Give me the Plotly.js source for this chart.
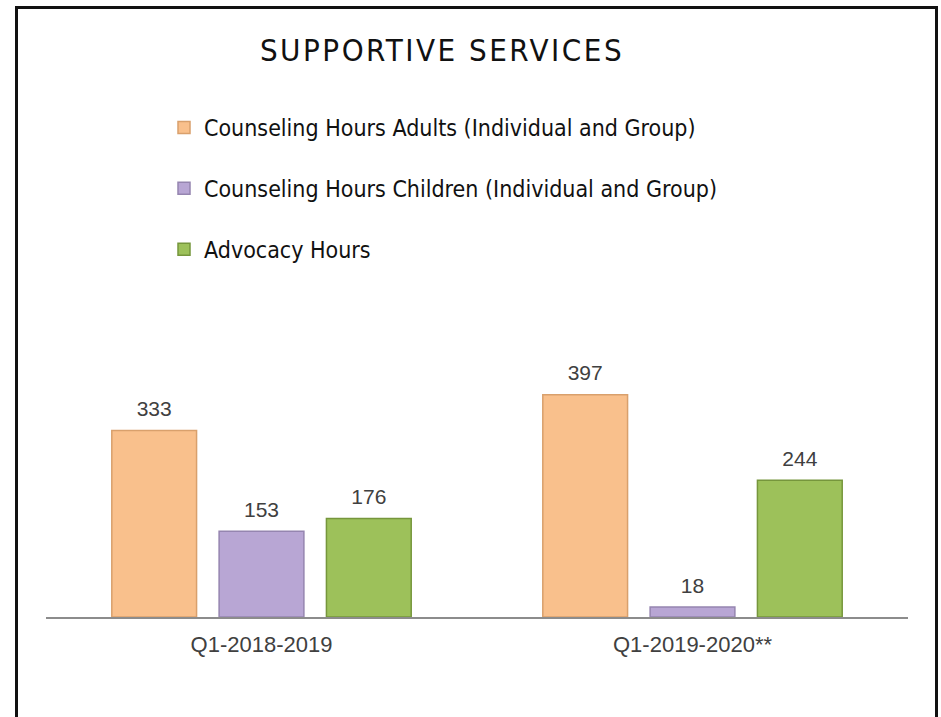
<!DOCTYPE html>
<html>
<head>
<meta charset="utf-8">
<script src="https://cdn.plot.ly/plotly-3.0.1.min.js"></script>
<style>
  html, body { margin: 0; padding: 0; background: #ffffff; }
  #chart { width: 941px; height: 717px; position: relative; }
  #frame { position: absolute; left: 15px; top: 6px; width: 917px; height: 760px;
           border: 3px solid #111; pointer-events: none; box-sizing: content-box; }
  .gtitle { letter-spacing: 2.5px; }
</style>
</head>
<body>
<div id="chart"></div>
<div id="frame"></div>
<script>
const categories = ["Q1-2018-2019", "Q1-2019-2020**"];
const seriesNames = [
  "Counseling Hours Adults (Individual and Group)",
  "Counseling Hours Children (Individual and Group)",
  "Advocacy Hours"
];
const adults = [333, 397];
const children = [153, 18];
const advocacy = [176, 244];
const seriesValues = [adults, children, advocacy];
const fillColors = ["#F9C08C", "#B8A6D4", "#9DC15A"];
const lineColors = ["#D9A06C", "#9585B0", "#76963C"];

const legendFont = "Liberation Sans Narrow, DejaVu Sans Condensed, Arial Narrow, sans-serif";
const labelFont = "Liberation Sans, Arial, sans-serif";

const barTraces = seriesValues.map((vals, i) => ({
  type: "bar",
  name: seriesNames[i],
  x: categories,
  y: vals,
  marker: { color: fillColors[i], line: { color: lineColors[i], width: 1.5 } },
  legendgroup: "g" + i,
  hoverinfo: "x+y+name"
}));

// value labels, placed through the same category axis (grouped like the bars)
const labelTraces = seriesValues.map((vals, i) => ({
  type: "scatter",
  mode: "markers+text",
  x: categories,
  y: vals,
  text: vals.map(String),
  textposition: "top center",
  textfont: { family: labelFont, size: 21, color: "#404040" },
  marker: { size: 13, color: "rgba(0,0,0,0)" },
  cliponaxis: false,
  showlegend: false,
  legendgroup: "g" + i,
  hoverinfo: "skip"
}));

const layout = {
  width: 941,
  height: 717,
  paper_bgcolor: "rgba(0,0,0,0)",
  plot_bgcolor: "rgba(0,0,0,0)",
  margin: { l: 46, r: 33, t: 337, b: 100, autoexpand: false },
  title: {
    text: "SUPPORTIVE SERVICES",
    font: { family: legendFont, size: 31, color: "#111111" },
    xref: "container", x: 442 / 941, xanchor: "center",
    yref: "container", y: 1 - 50 / 717, yanchor: "middle"
  },
  showlegend: true,
  legend: {
    xref: "container", x: 164 / 941, xanchor: "left",
    yref: "container", y: 1 - 106 / 717, yanchor: "top",
    orientation: "v",
    traceorder: "grouped",
    tracegroupgap: 28,
    font: { family: legendFont, size: 23, color: "#111111" },
    bgcolor: "rgba(0,0,0,0)",
    borderwidth: 0
  },
  barmode: "group",
  bargap: 0.253,
  bargroupgap: 0.21,
  scattermode: "group",
  scattergap: 0.253,
  xaxis: {
    type: "category",
    range: [-0.5, 1.5],
    showline: true,
    linecolor: "#8C8C8C",
    linewidth: 2,
    showgrid: false,
    zeroline: false,
    ticks: "",
    tickangle: 0,
    ticklabelstandoff: 7,
    tickfont: { family: labelFont, size: 22, color: "#404040" }
  },
  yaxis: {
    range: [0, 500],
    visible: false,
    showgrid: false,
    zeroline: false
  }
};

Plotly.newPlot("chart", barTraces.concat(labelTraces), layout, { displayModeBar: false });
</script>
</body>
</html>
